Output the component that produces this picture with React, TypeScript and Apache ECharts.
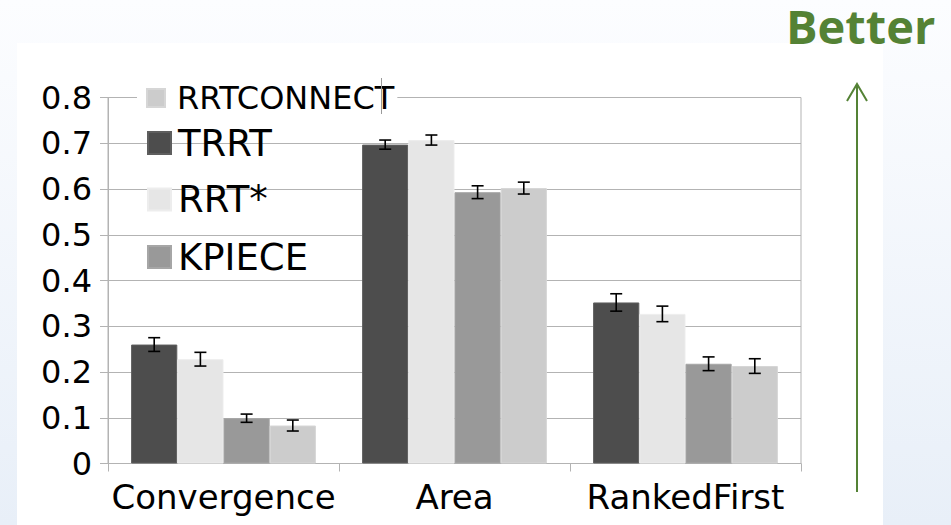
import React, { useEffect, useRef } from "react";
import * as echarts from "echarts";

// Planner benchmark scores (higher is better) with ± error margins
const categories = ["Convergence", "Area", "RankedFirst"];

const trrt = [0.26, 0.697, 0.352];
const trrtErr = [0.015, 0.01, 0.019];

const rrtStar = [0.228, 0.707, 0.327];
const rrtStarErr = [0.015, 0.011, 0.017];

const kpiece = [0.099, 0.593, 0.218];
const kpieceErr = [0.009, 0.014, 0.015];

const rrtConnect = [0.083, 0.602, 0.213];
const rrtConnectErr = [0.012, 0.013, 0.016];

const FONT = "DejaVu Sans";
const GRID_GRAY = "#b3b3b3";
const GREEN = "#548235";

type SeriesDef = { name: string; values: number[]; errs: number[]; color: string; border: string };

const seriesDefs: SeriesDef[] = [
  { name: "TRRT", values: trrt, errs: trrtErr, color: "#4d4d4d", border: "#5e5e5e" },
  { name: "RRT*", values: rrtStar, errs: rrtStarErr, color: "#e6e6e6", border: "#ededed" },
  { name: "KPIECE", values: kpiece, errs: kpieceErr, color: "#999999", border: "#a6a6a6" },
  { name: "RRTCONNECT", values: rrtConnect, errs: rrtConnectErr, color: "#cccccc", border: "#d6d6d6" },
];

export default function App() {
  const ref = useRef<HTMLDivElement>(null);

  useEffect(() => {
    if (!ref.current) return;
    const chart = echarts.init(ref.current, undefined, { renderer: "svg" });

    // [category index, low, high, series index]
    const errorData: number[][] = [];
    seriesDefs.forEach((s, k) => {
      s.values.forEach((v, i) => {
        errorData.push([i, v - s.errs[i], v + s.errs[i], k]);
      });
    });

    const nSeries = seriesDefs.length;
    const groupFrac = 0.8;

    const bigLegend = (name: string, top: number) => ({
      data: [name],
      left: 147,
      top,
      padding: 0,
      icon: "rect",
      itemWidth: 23,
      itemHeight: 22,
      selectedMode: false,
      textStyle: { fontFamily: FONT, fontSize: 37, lineHeight: 40, color: "#000", padding: [0, 0, 0, 2] },
    });

    chart.setOption({
      animation: false,
      backgroundColor: new echarts.graphic.LinearGradient(0, 0, 0, 1, [
        { offset: 0, color: "#fcfdff" },
        { offset: 1, color: "#e8eff8" },
      ]),
      graphic: [
        { type: "rect", z: -10, shape: { x: 17, y: 43, width: 866, height: 482 }, style: { fill: "#ffffff" } },
        {
          type: "text",
          z: 10,
          x: 786,
          y: 6,
          style: {
            text: "Better",
            fill: GREEN,
            fontFamily: "Open Sans",
            fontWeight: "bold",
            fontSize: 47,
            lineHeight: 40,
            verticalAlign: "top",
            align: "left",
          },
        },
        { type: "line", z: 10, shape: { x1: 857, y1: 492, x2: 857, y2: 85 }, style: { stroke: GREEN, lineWidth: 2 } },
        {
          type: "polyline",
          z: 10,
          shape: { points: [[847, 101], [857, 84], [867, 101]] },
          style: { stroke: GREEN, lineWidth: 2, fill: null },
        },
        { type: "line", z: 20, shape: { x1: 381.5, y1: 78, x2: 381.5, y2: 114 }, style: { stroke: "#9a9a9a", lineWidth: 1 } },
      ],
      legend: [
        {
          data: ["RRTCONNECT"],
          left: 137,
          top: 78,
          padding: [3, 3, 3, 9],
          backgroundColor: "#ffffff",
          icon: "rect",
          itemWidth: 18,
          itemHeight: 18,
          selectedMode: false,
          textStyle: { fontFamily: FONT, fontSize: 32, lineHeight: 34, color: "#000", padding: [0, 0, 0, 7] },
        },
        bigLegend("TRRT", 123),
        bigLegend("RRT*", 179.5),
        bigLegend("KPIECE", 237),
      ],
      grid: {
        left: 108,
        right: 150,
        top: 97.5,
        bottom: 61.5,
        show: true,
        borderColor: GRID_GRAY,
        borderWidth: 1,
        backgroundColor: "transparent",
      },
      xAxis: {
        type: "category",
        data: categories,
        axisLine: { lineStyle: { color: GRID_GRAY, width: 1 } },
        axisTick: { show: true, length: 8, lineStyle: { color: GRID_GRAY } },
        axisLabel: { fontFamily: FONT, fontSize: 34, color: "#000", margin: 16, interval: 0, hideOverlap: false },
      },
      yAxis: {
        type: "value",
        min: 0,
        max: 0.8,
        interval: 0.1,
        axisLine: { show: true, lineStyle: { color: GRID_GRAY, width: 1 } },
        axisTick: { show: true, length: 8, lineStyle: { color: GRID_GRAY } },
        splitLine: { lineStyle: { color: GRID_GRAY, width: 1 } },
        axisLabel: { fontFamily: FONT, fontSize: 32, color: "#000", margin: 16 },
      },
      series: [
        ...seriesDefs.map((s) => ({
          name: s.name,
          type: "bar",
          data: s.values,
          barGap: "0%",
          barCategoryGap: "20%",
          itemStyle: { color: s.color, borderColor: s.border, borderWidth: 1 },
        })),
        {
          type: "custom",
          name: "error",
          z: 5,
          data: errorData,
          encode: { x: 0, y: [1, 2] },
          renderItem: (_params: any, api: any) => {
            const i = api.value(0);
            const k = api.value(3);
            const lo = api.coord([i, api.value(1)]);
            const hi = api.coord([i, api.value(2)]);
            const band = api.size([1, 0])[0];
            const barW = (band * groupFrac) / nSeries;
            const x = lo[0] + (-groupFrac / 2 + barW / band * (k + 0.5)) * band;
            const half = 6;
            const style = { stroke: "#000", lineWidth: 1.6 };
            return {
              type: "group",
              children: [
                { type: "line", shape: { x1: x, y1: lo[1], x2: x, y2: hi[1] }, style },
                { type: "line", shape: { x1: x - half, y1: lo[1], x2: x + half, y2: lo[1] }, style },
                { type: "line", shape: { x1: x - half, y1: hi[1], x2: x + half, y2: hi[1] }, style },
              ],
            };
          },
        },
      ],
    });

    return () => chart.dispose();
  }, []);

  return (
    <div
      ref={ref}
      style={{ position: "absolute", left: 0, top: 0, width: 951, height: 525 }}
    />
  );
}
